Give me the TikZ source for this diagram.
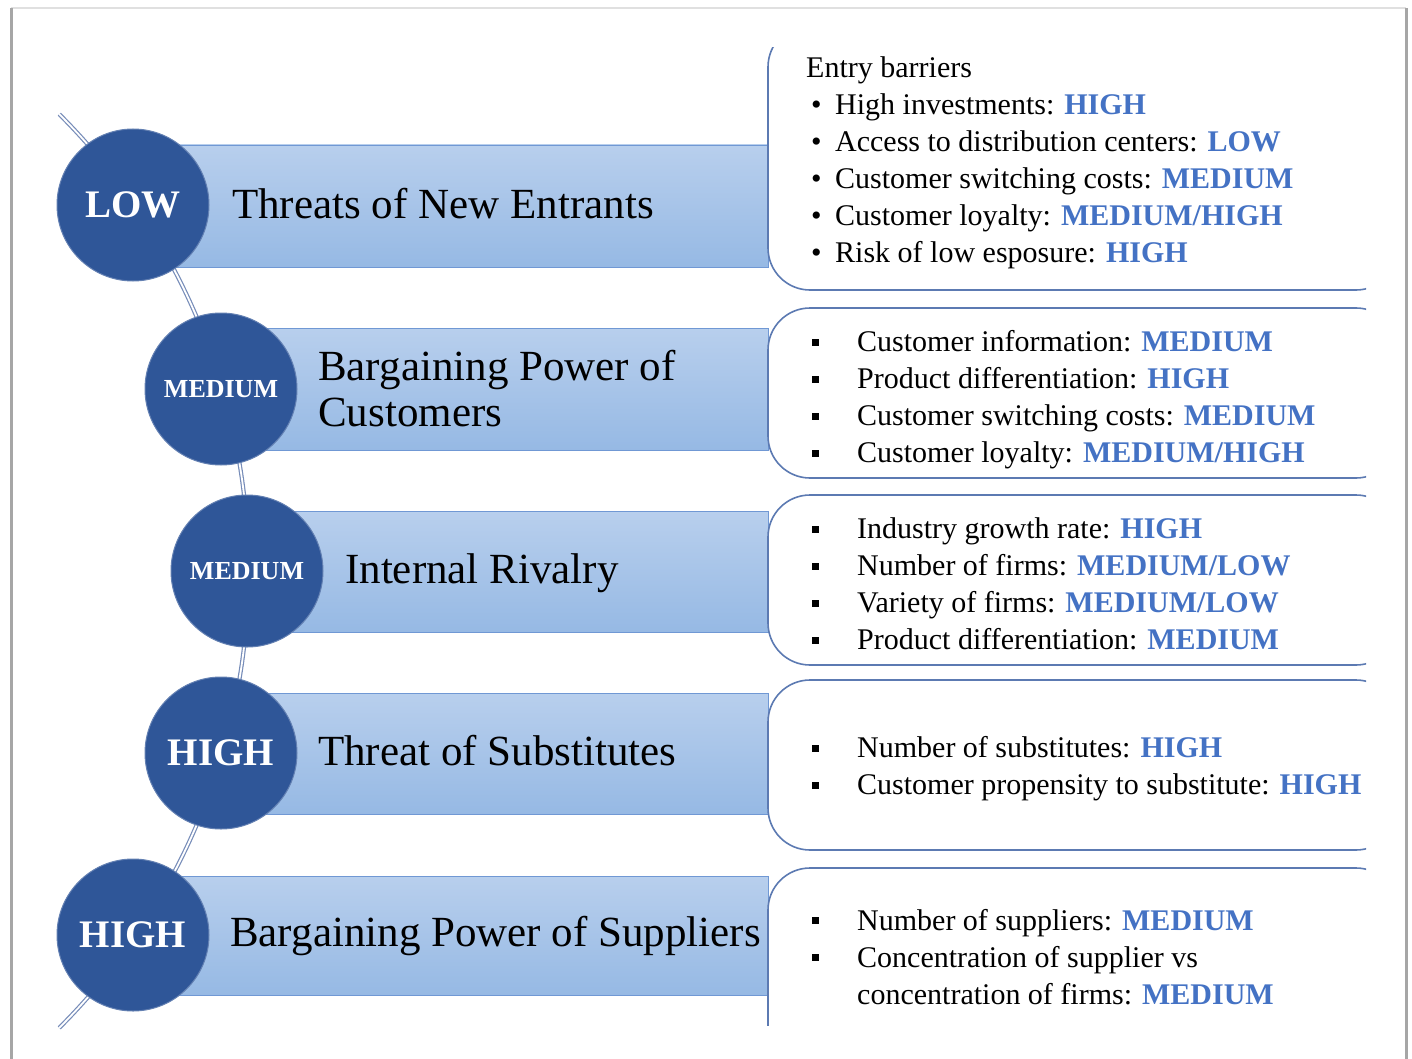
\documentclass[tikz,border=0pt]{standalone}
\usepackage{fontspec}
\setmainfont{Liberation Serif}
\usepackage{xcolor}
\usepackage{tikz}

\definecolor{circblue}{RGB}{47,86,152}
\definecolor{valblue}{RGB}{68,114,196}
\definecolor{bartop}{RGB}{184,207,237}
\definecolor{barbot}{RGB}{150,185,228}
\definecolor{baredge}{RGB}{112,152,212}
\definecolor{boxedge}{RGB}{92,122,178}
\definecolor{spineblue}{RGB}{118,140,184}

% rating in the fact boxes
\newcommand{\lvl}[1]{\textcolor{valblue}{\textbf{#1}}}
% bullets
\newcommand{\dotb}{\hspace*{5pt}\makebox[24pt][l]{\textbullet}}
\newcommand{\sqb}{\makebox[45pt][l]{\rule[0.2em]{0.24em}{0.24em}}}

\begin{document}
\begin{tikzpicture}[x=1pt, y=-1pt,
    level/.style={circle, fill=circblue, draw=circblue!75!white, line width=1pt,
        minimum size=152pt, inner sep=0pt, text=white},
    bar/.style={top color=bartop, bottom color=barbot, draw=baredge, line width=0.8pt},
    force/.style={anchor=west, inner sep=0pt, align=left, font=\fontsize{43}{46}\selectfont},
    infobox/.style={draw=boxedge, fill=white, line width=1.6pt, rounded corners=42pt},
    facts/.style={anchor=west, inner sep=0pt, align=left, font=\fontsize{30}{37}\selectfont},
    spine/.style={draw=spineblue, double=white, line width=1.2pt, double distance=1.8pt}]
    \useasboundingbox (0,0) rectangle (1412,1059);

    % page edges
    \draw[black!12, line width=2pt] (11,8) -- (1406,8);
    \draw[black!35, line width=3pt] (11,1059) -- (11,8);
    \draw[black!35, line width=3pt] (1406,8) -- (1406,1059);

    % backbone arc behind the circles
    \coordinate (hub) at (-397.5,571);
    \draw[spine] (hub) ++(-45:646) arc[start angle=-45, end angle=45, radius=646];

    % bars
    \path[bar] (133,145) rectangle (768,267);
    \path[bar] (221,328) rectangle (768,450);
    \path[bar] (247,511) rectangle (768,632);
    \path[bar] (221,693) rectangle (768,814);
    \path[bar] (133,876) rectangle (768,995);

    % ratings
    \node[level, font=\fontsize{39}{39}\selectfont\bfseries] (newent) at (133,205) {LOW};
    \node[level, font=\fontsize{26}{26}\selectfont\bfseries] (buyers) at (221,389) {MEDIUM};
    \node[level, font=\fontsize{26}{26}\selectfont\bfseries] (rivalry) at (247,571) {MEDIUM};
    \node[level, font=\fontsize{39}{39}\selectfont\bfseries] (subst) at (221,753) {HIGH};
    \node[level, font=\fontsize{39}{39}\selectfont\bfseries] (suppl) at (133,935) {HIGH};

    % fact boxes, cut at the right
    \begin{scope}
        \clip (750,48) rectangle (1366,1025);
        \draw[infobox] (768,25) rectangle (1398,290);
        \draw[infobox] (768,308) rectangle (1398,478);
        \draw[infobox] (768,495) rectangle (1398,665);
        \draw[infobox] (768,680) rectangle (1398,850);
        \draw[infobox] (768,868) rectangle (1398,1070);
    \end{scope}

    % forces
    \node[force] (newent-t) at (232,204) {Threats of New Entrants};
    \node[force] (buyers-t) at (318,389) {Bargaining Power of\\Customers};
    \node[force] (rivalry-t) at (345,573) {Internal Rivalry};
    \node[force] (subst-t) at (318,751) {Threat of Substitutes};
    \node[force] (suppl-t) at (230,936) {Bargaining Power of Suppliers};

    % details
    \node[facts] (newent-f) at (806,163) {Entry barriers\\
        \dotb High investments: \lvl{HIGH}\\
        \dotb Access to distribution centers: \lvl{LOW}\\
        \dotb Customer switching costs: \lvl{MEDIUM}\\
        \dotb Customer loyalty: \lvl{MEDIUM/HIGH}\\
        \dotb Risk of low esposure: \lvl{HIGH}};
    \node[facts] (buyers-f) at (812,400) {\sqb Customer information: \lvl{MEDIUM}\\
        \sqb Product differentiation: \lvl{HIGH}\\
        \sqb Customer switching costs: \lvl{MEDIUM}\\
        \sqb Customer loyalty: \lvl{MEDIUM/HIGH}};
    \node[facts] (rivalry-f) at (812,584) {\sqb Industry growth rate: \lvl{HIGH}\\
        \sqb Number of firms: \lvl{MEDIUM/LOW}\\
        \sqb Variety of firms: \lvl{MEDIUM/LOW}\\
        \sqb Product differentiation: \lvl{MEDIUM}};
    \node[facts] (subst-f) at (812,769) {\sqb Number of substitutes: \lvl{HIGH}\\
        \sqb Customer propensity to substitute: \lvl{HIGH}};
    \node[facts] (suppl-f) at (812,957) {\sqb Number of suppliers: \lvl{MEDIUM}\\
        \sqb Concentration of supplier vs\\
        \hspace*{45pt}concentration of firms: \lvl{MEDIUM}};
\end{tikzpicture}
\end{document}
